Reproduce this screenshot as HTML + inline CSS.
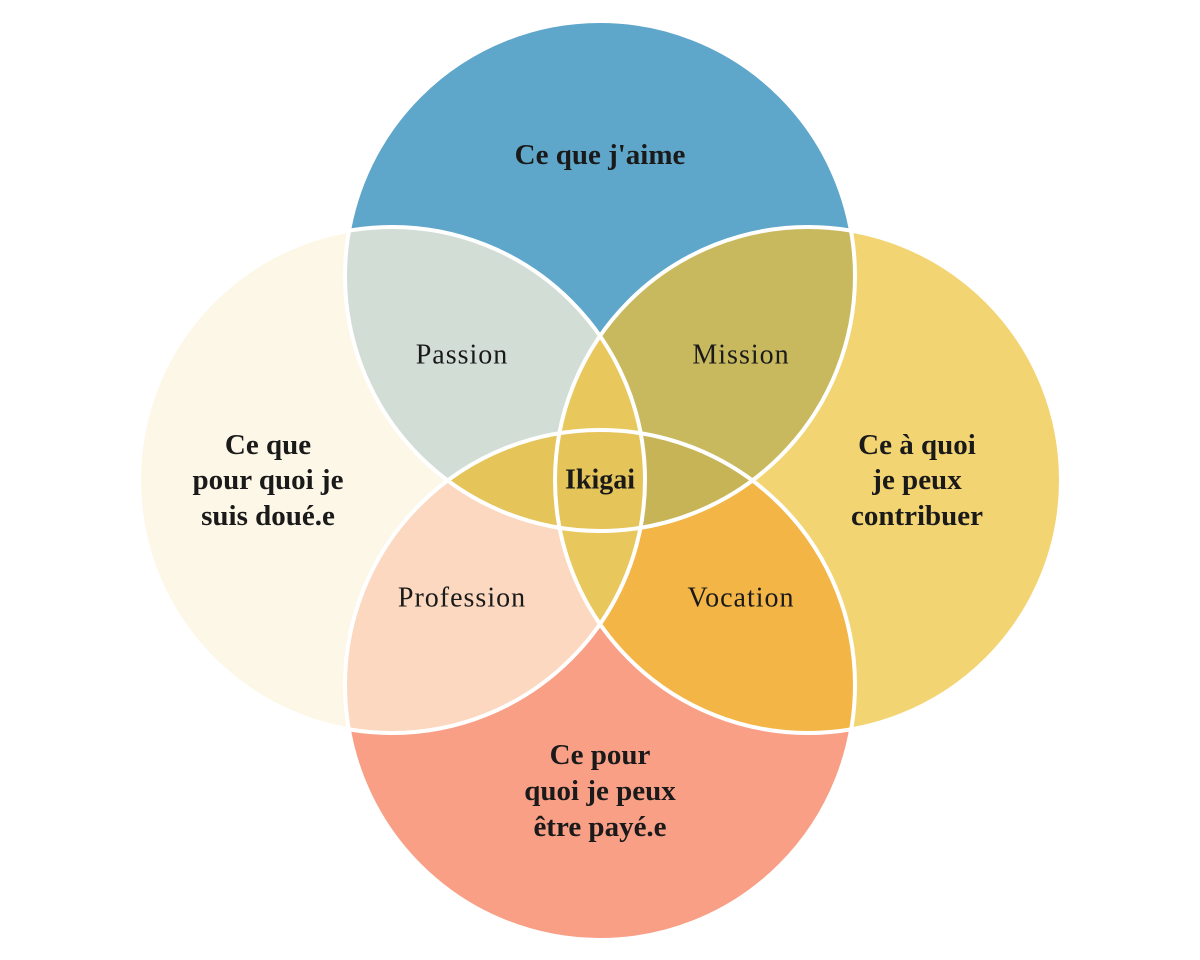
<!DOCTYPE html>
<html><head><meta charset="utf-8"><style>
html,body{margin:0;padding:0;background:#fff;}
svg{display:block;}
text{font-family:"Liberation Serif",serif;fill:#1a1a1a;text-anchor:middle;dominant-baseline:central;}
.b{font-weight:bold;font-size:29px;}
.r{font-size:28px;letter-spacing:1px;}
</style></head><body>
<svg width="1200" height="960" viewBox="0 0 1200 960">
<defs>
<clipPath id="cT"><circle cx="600" cy="276" r="255"/></clipPath>
<clipPath id="cL"><circle cx="392" cy="480" r="253"/></clipPath>
<clipPath id="cR"><circle cx="808" cy="480" r="253"/></clipPath>
<clipPath id="cB"><circle cx="600" cy="685" r="255"/></clipPath>
</defs>
<circle cx="600" cy="276" r="255" fill="#5fa6cb"/>
<circle cx="392" cy="480" r="253" fill="#fdf7e7"/>
<circle cx="808" cy="480" r="253" fill="#f2d472"/>
<circle cx="600" cy="685" r="255" fill="#f89f86"/>
<g clip-path="url(#cT)"><circle cx="392" cy="480" r="253" fill="#d2ddd6"/></g>
<g clip-path="url(#cT)"><circle cx="808" cy="480" r="253" fill="#c8b95f"/></g>
<g clip-path="url(#cB)"><circle cx="392" cy="480" r="253" fill="#fbd8bf"/></g>
<g clip-path="url(#cB)"><circle cx="808" cy="480" r="253" fill="#f3b546"/></g>
<g clip-path="url(#cT)"><circle cx="600" cy="685" r="255" fill="#e6c65c"/></g>
<g clip-path="url(#cL)"><circle cx="808" cy="480" r="253" fill="#e8c85c"/></g>
<g clip-path="url(#cT)"><g clip-path="url(#cL)"><circle cx="600" cy="685" r="255" fill="#cad0c2"/></g></g>
<g clip-path="url(#cT)"><g clip-path="url(#cR)"><circle cx="600" cy="685" r="255" fill="#c7b457"/></g></g>
<g clip-path="url(#cT)"><g clip-path="url(#cB)"><circle cx="392" cy="480" r="253" fill="#e5c45a"/></g></g>
<g fill="none" stroke="#fff" stroke-width="4">
<circle cx="600" cy="276" r="255"/>
<circle cx="392" cy="480" r="253"/>
<circle cx="808" cy="480" r="253"/>
<circle cx="600" cy="685" r="255"/>
</g>
<text class="b" x="600" y="155">Ce que j'aime</text>
<text class="r" x="462" y="355">Passion</text>
<text class="r" x="741" y="355">Mission</text>
<text class="r" x="462" y="598">Profession</text>
<text class="r" x="741" y="598">Vocation</text>
<text class="b" x="600" y="480" style="font-size:28px">Ikigai</text>
<text class="b" x="268" y="445">Ce que</text>
<text class="b" x="268" y="480">pour quoi je</text>
<text class="b" x="268" y="516">suis doué.e</text>
<text class="b" x="917" y="445">Ce  à quoi</text>
<text class="b" x="917" y="480">je peux</text>
<text class="b" x="917" y="516">contribuer</text>
<text class="b" x="600" y="755">Ce pour</text>
<text class="b" x="600" y="791">quoi je peux</text>
<text class="b" x="600" y="827">être payé.e</text>
</svg>
</body></html>
